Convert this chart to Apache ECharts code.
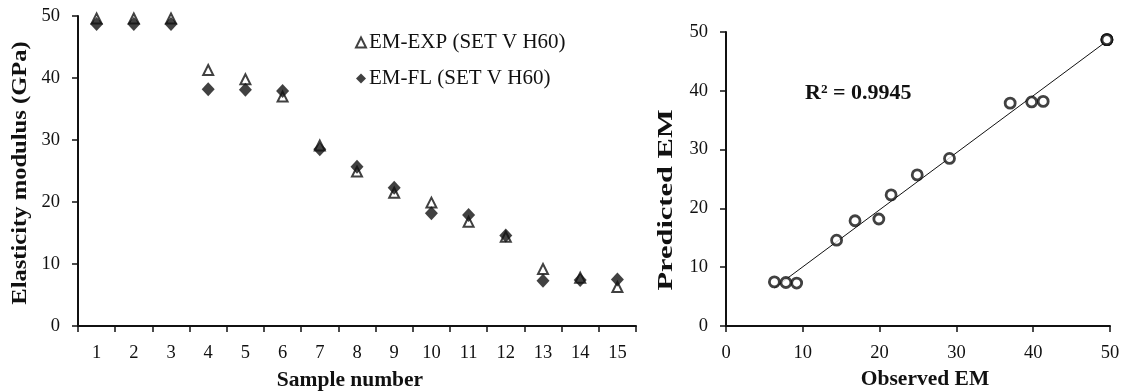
<!DOCTYPE html>
<html>
<head>
<meta charset="utf-8">
<script src="https://cdn.jsdelivr.net/npm/echarts@6/dist/echarts.min.js"></script>
<style>
html,body{margin:0;padding:0;background:#fff;}
#chart{width:1126px;height:392px;}
</style>
</head>
<body>
<div id="chart"></div>
<script>
// ---- data ----
const samples = ['1','2','3','4','5','6','7','8','9','10','11','12','13','14','15'];
const emExp = [49.6, 49.6, 49.6, 41.3, 39.8, 37.0, 29.1, 24.9, 21.5, 19.9, 16.8, 14.4, 9.2, 7.8, 6.3];
const emFl  = [48.7, 48.7, 48.7, 38.2, 38.1, 37.9, 28.5, 25.7, 22.3, 18.2, 17.9, 14.6, 7.3, 7.4, 7.5];
const seriesNames = ['EM-EXP (SET V H60)', 'EM-FL (SET V H60)'];
const r2Label = 'R² = 0.9945';
const leftYTitle = 'Elasticity modulus (GPa)';
const leftXTitle = 'Sample number';
const rightYTitle = 'Predicted EM';
const rightXTitle = 'Observed EM';

// ---- regression (trendline computed from data) ----
const n = emExp.length;
const mx = emExp.reduce((a,b)=>a+b,0)/n;
const my = emFl.reduce((a,b)=>a+b,0)/n;
let sxy = 0, sxx = 0;
for (let i = 0; i < n; i++) { sxy += (emExp[i]-mx)*(emFl[i]-my); sxx += (emExp[i]-mx)**2; }
const slope = sxy/sxx, intercept = my - slope*mx;
const xMin = Math.min(...emExp), xMax = Math.max(...emExp);
const trend = [[xMin, slope*xMin+intercept], [xMax, slope*xMax+intercept]];
const pairs = emExp.map((v,i)=>[v, emFl[i]]);

const FONT = '"Liberation Serif", "Times New Roman", serif';
const axisLine = {show:true, lineStyle:{color:'#111', width:2}};
const axisTick = {show:true, inside:false, length:6, lineStyle:{color:'#111', width:1.5}};
const axisLabel = {color:'#111', fontFamily:FONT, fontSize:18.5, margin:18};

const chart = echarts.init(document.getElementById('chart'), null, {renderer:'canvas'});
chart.setOption({
  animation:false,
  backgroundColor:'#fff',
  textStyle:{fontFamily:FONT},
  grid:[
    {left:78, top:16, width:558, height:310},
    {left:726, top:32, width:384, height:294}
  ],
  legend:{
    orient:'vertical', left:350, top:27, itemGap:15, itemWidth:10, itemHeight:10,
    textStyle:{fontFamily:FONT, fontSize:21, color:'#111', padding:[0,0,0,-2]},
    data:seriesNames
  },
  xAxis:[
    {type:'category', gridIndex:0, data:samples, boundaryGap:true,
     axisLine, axisTick:Object.assign({}, axisTick, {alignWithLabel:false, interval:0}),
     axisLabel:Object.assign({}, axisLabel, {interval:0}), splitLine:{show:false}},
    {type:'value', gridIndex:1, min:0, max:50, interval:10,
     axisLine, axisTick, axisLabel, splitLine:{show:false}}
  ],
  yAxis:[
    {type:'value', gridIndex:0, min:0, max:50, interval:10,
     axisLine, axisTick, axisLabel, splitLine:{show:false}},
    {type:'value', gridIndex:1, min:0, max:50, interval:10,
     axisLine, axisTick, axisLabel, splitLine:{show:false}}
  ],
  series:[
    {name:seriesNames[0], type:'scatter', xAxisIndex:0, yAxisIndex:0, data:emExp,
     symbol:'triangle', symbolSize:10,
     itemStyle:{color:'#fff', borderColor:'#111', borderWidth:2}, z:3},
    {name:seriesNames[1], type:'scatter', xAxisIndex:0, yAxisIndex:0, data:emFl,
     symbol:'diamond', symbolSize:[13,14],
     itemStyle:{color:'#111', borderColor:'#111', borderWidth:0}, z:4},
    {name:'trend', type:'line', xAxisIndex:1, yAxisIndex:1, data:trend,
     symbol:'none', lineStyle:{color:'#111', width:1}, z:2},
    {name:'pairs', type:'scatter', xAxisIndex:1, yAxisIndex:1, data:pairs,
     symbol:'circle', symbolSize:10,
     itemStyle:{color:'#fff', borderColor:'#111', borderWidth:2.8}, z:3}
  ],
  graphic:[
    {type:'text', x:21, y:173, rotation:Math.PI/2, scaleX:1.17, scaleY:1,
     style:{text:leftYTitle, font:'bold 21px '+FONT, fill:'#111', textAlign:'center', textVerticalAlign:'middle'}},
    {type:'text', x:350, y:380,
     style:{text:leftXTitle, font:'bold 21.5px '+FONT, fill:'#111', textAlign:'center', textVerticalAlign:'middle'}},
    {type:'text', x:667, y:200, rotation:Math.PI/2, scaleX:1.45, scaleY:1,
     style:{text:rightYTitle, font:'bold 21px '+FONT, fill:'#111', textAlign:'center', textVerticalAlign:'middle'}},
    {type:'text', x:925, y:379,
     style:{text:rightXTitle, font:'bold 21.5px '+FONT, fill:'#111', textAlign:'center', textVerticalAlign:'middle'}},
    {type:'text', x:805, y:93,
     style:{text:r2Label, font:'bold 22px '+FONT, fill:'#111', textAlign:'left', textVerticalAlign:'middle'}}
  ]
});
</script>
</body>
</html>
